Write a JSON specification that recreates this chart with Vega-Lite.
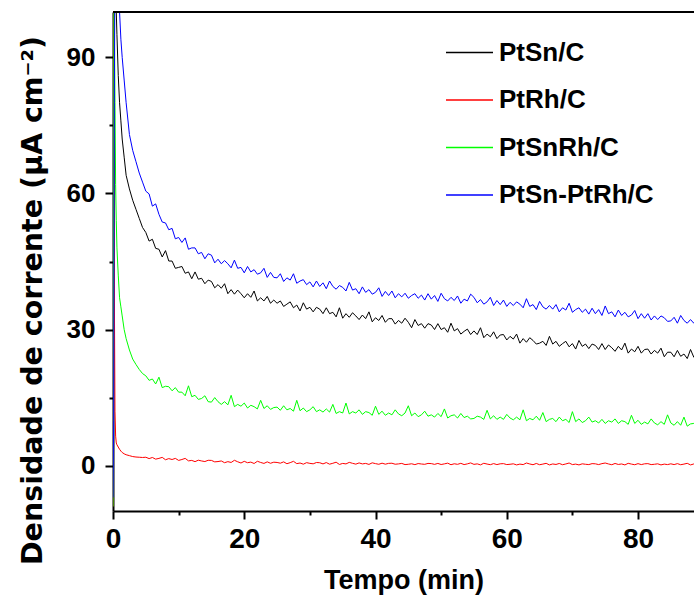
{
"$schema":"https://vega.github.io/schema/vega-lite/v6.json",
"width":581,"height":499,
"autosize":{"type":"none"},
"padding":{"left":113,"top":12,"right":0,"bottom":85},
"background":"white",
"config":{"view":{"stroke":null},"font":"Liberation Sans"},
"data":{"values":[
{"t":0,"PtSn":-8,"PtRh":-9,"PtSnRh":-9,"PtSnPtRh":-7},
{"t":0.1,"PtSn":30,"PtRh":70,"PtSnRh":60,"PtSnPtRh":10},
{"t":0.15,"PtSn":80,"PtRh":110,"PtSnRh":110,"PtSnPtRh":40},
{"t":0.2,"PtSn":110,"PtRh":40,"PtSnRh":100,"PtSnPtRh":80},
{"t":0.3,"PtSn":110,"PtRh":12,"PtSnRh":80,"PtSnPtRh":110},
{"t":0.4,"PtSn":105,"PtRh":6.5,"PtSnRh":62,"PtSnPtRh":115},
{"t":0.5,"PtSn":100,"PtRh":5.0,"PtSnRh":54,"PtSnPtRh":115},
{"t":0.6,"PtSn":95,"PtRh":4.6,"PtSnRh":48,"PtSnPtRh":115},
{"t":0.8,"PtSn":86,"PtRh":4.1,"PtSnRh":42,"PtSnPtRh":112},
{"t":1.0,"PtSn":80,"PtRh":3.6,"PtSnRh":37,"PtSnPtRh":100},
{"t":1.2,"PtSn":76,"PtRh":3.2,"PtSnRh":35,"PtSnPtRh":94},
{"t":1.4,"PtSn":72,"PtRh":2.9,"PtSnRh":33,"PtSnPtRh":90},
{"t":1.7,"PtSn":68,"PtRh":2.6,"PtSnRh":30,"PtSnPtRh":85},
{"t":2.0,"PtSn":64,"PtRh":2.4,"PtSnRh":28,"PtSnPtRh":80},
{"t":2.5,"PtSn":61,"PtRh":2.2,"PtSnRh":25.5,"PtSnPtRh":73},
{"t":3.0,"PtSn":58.5,"PtRh":2.0,"PtSnRh":23.5,"PtSnPtRh":69.5},
{"t":3.5,"PtSn":56.5,"PtRh":1.9,"PtSnRh":22.3,"PtSnPtRh":67},
{"t":4.0,"PtSn":54.5,"PtRh":1.85,"PtSnRh":21.2,"PtSnPtRh":64.5},
{"t":4.5,"PtSn":52.5,"PtRh":1.8,"PtSnRh":20.3,"PtSnPtRh":62.5},
{"t":5,"PtSn":51.4,"PtRh":1.85,"PtSnRh":19.8,"PtSnPtRh":60.5},
{"t":5.5,"PtSn":49.5,"PtRh":1.55,"PtSnRh":18.8,"PtSnPtRh":59.9},
{"t":6,"PtSn":49.9,"PtRh":1.8,"PtSnRh":19.1,"PtSnPtRh":57.2},
{"t":6.5,"PtSn":47.9,"PtRh":1.43,"PtSnRh":18.0,"PtSnPtRh":57.7},
{"t":7,"PtSn":47.7,"PtRh":1.6,"PtSnRh":19.5,"PtSnPtRh":55.4},
{"t":7.5,"PtSn":46.0,"PtRh":1.82,"PtSnRh":17.2,"PtSnPtRh":53.7},
{"t":8,"PtSn":47.4,"PtRh":1.3,"PtSnRh":17.5,"PtSnPtRh":53.5},
{"t":8.5,"PtSn":45.1,"PtRh":1.55,"PtSnRh":17.4,"PtSnPtRh":52.0},
{"t":9,"PtSn":45.1,"PtRh":1.35,"PtSnRh":16.5,"PtSnPtRh":52.3},
{"t":9.5,"PtSn":43.5,"PtRh":1.6,"PtSnRh":17.2,"PtSnPtRh":50.0},
{"t":10,"PtSn":43.7,"PtRh":1.15,"PtSnRh":16.2,"PtSnPtRh":50.3},
{"t":10.5,"PtSn":43.9,"PtRh":1.35,"PtSnRh":16.2,"PtSnPtRh":49.2},
{"t":11,"PtSn":42.4,"PtRh":1.6,"PtSnRh":15.4,"PtSnPtRh":50.2},
{"t":11.5,"PtSn":42.7,"PtRh":1.05,"PtSnRh":17.6,"PtSnPtRh":47.7},
{"t":12,"PtSn":41.2,"PtRh":1.15,"PtSnRh":15.2,"PtSnPtRh":48.0},
{"t":12.5,"PtSn":42.7,"PtRh":0.88,"PtSnRh":15.5,"PtSnPtRh":48.0},
{"t":13,"PtSn":41.1,"PtRh":1.2,"PtSnRh":14.6,"PtSnPtRh":46.7},
{"t":13.5,"PtSn":41.3,"PtRh":1.03,"PtSnRh":14.8,"PtSnPtRh":47.0},
{"t":14,"PtSn":40.1,"PtRh":0.9,"PtSnRh":15.4,"PtSnPtRh":45.6},
{"t":14.5,"PtSn":40.9,"PtRh":1.18,"PtSnRh":14.1,"PtSnPtRh":46.7},
{"t":15,"PtSn":40.6,"PtRh":1.15,"PtSnRh":14.0,"PtSnPtRh":46.4},
{"t":15.5,"PtSn":39.2,"PtRh":0.83,"PtSnRh":15.0,"PtSnPtRh":44.7},
{"t":16,"PtSn":39.9,"PtRh":0.9,"PtSnRh":14.1,"PtSnPtRh":45.5},
{"t":16.5,"PtSn":39.1,"PtRh":1.03,"PtSnRh":13.5,"PtSnPtRh":44.5},
{"t":17,"PtSn":40.1,"PtRh":0.65,"PtSnRh":14.1,"PtSnPtRh":45.2},
{"t":17.5,"PtSn":37.9,"PtRh":0.88,"PtSnRh":13.4,"PtSnPtRh":44.5},
{"t":18,"PtSn":38.8,"PtRh":0.7,"PtSnRh":15.5,"PtSnPtRh":43.6},
{"t":18.5,"PtSn":37.8,"PtRh":1.18,"PtSnRh":13.0,"PtSnPtRh":45.3},
{"t":19,"PtSn":38.7,"PtRh":0.85,"PtSnRh":13.5,"PtSnPtRh":43.5},
{"t":19.5,"PtSn":37.9,"PtRh":0.58,"PtSnRh":13.1,"PtSnPtRh":43.7},
{"t":20,"PtSn":37.0,"PtRh":0.95,"PtSnRh":13.8,"PtSnPtRh":42.5},
{"t":20.5,"PtSn":37.9,"PtRh":0.64,"PtSnRh":12.7,"PtSnPtRh":43.9},
{"t":21,"PtSn":37.1,"PtRh":0.78,"PtSnRh":13.3,"PtSnPtRh":42.7},
{"t":21.5,"PtSn":38.5,"PtRh":0.47,"PtSnRh":13.0,"PtSnPtRh":43.2},
{"t":22,"PtSn":36.3,"PtRh":0.96,"PtSnRh":12.5,"PtSnPtRh":42.2},
{"t":22.5,"PtSn":37.0,"PtRh":0.7,"PtSnRh":14.4,"PtSnPtRh":42.5},
{"t":23,"PtSn":36.3,"PtRh":0.49,"PtSnRh":12.6,"PtSnPtRh":43.5},
{"t":23.5,"PtSn":37.3,"PtRh":0.83,"PtSnRh":13.2,"PtSnPtRh":41.5},
{"t":24,"PtSn":35.8,"PtRh":0.52,"PtSnRh":12.4,"PtSnPtRh":42.6},
{"t":24.5,"PtSn":36.5,"PtRh":0.76,"PtSnRh":12.8,"PtSnPtRh":41.5},
{"t":25,"PtSn":35.8,"PtRh":0.7,"PtSnRh":12.9,"PtSnPtRh":41.4},
{"t":25.5,"PtSn":36.3,"PtRh":0.54,"PtSnRh":12.2,"PtSnPtRh":42.3},
{"t":26,"PtSn":35.1,"PtRh":0.83,"PtSnRh":13.2,"PtSnPtRh":40.6},
{"t":26.5,"PtSn":35.6,"PtRh":0.42,"PtSnRh":12.3,"PtSnPtRh":41.4},
{"t":27,"PtSn":36.1,"PtRh":0.66,"PtSnRh":12.6,"PtSnPtRh":40.9},
{"t":27.5,"PtSn":34.8,"PtRh":0.95,"PtSnRh":12.0,"PtSnPtRh":42.3},
{"t":28,"PtSn":35.4,"PtRh":0.44,"PtSnRh":14.4,"PtSnPtRh":40.2},
{"t":28.5,"PtSn":34.1,"PtRh":0.58,"PtSnRh":12.1,"PtSnPtRh":40.7},
{"t":29,"PtSn":35.9,"PtRh":0.32,"PtSnRh":12.7,"PtSnPtRh":41.0},
{"t":29.5,"PtSn":34.5,"PtRh":0.66,"PtSnRh":11.9,"PtSnPtRh":39.9},
{"t":30,"PtSn":34.9,"PtRh":0.5,"PtSnRh":12.3,"PtSnPtRh":40.5},
{"t":30.5,"PtSn":33.9,"PtRh":0.4,"PtSnRh":13.0,"PtSnPtRh":39.4},
{"t":31,"PtSn":34.9,"PtRh":0.69,"PtSnRh":11.9,"PtSnPtRh":40.7},
{"t":31.5,"PtSn":34.5,"PtRh":0.64,"PtSnRh":12.3,"PtSnPtRh":39.5},
{"t":32,"PtSn":33.5,"PtRh":0.38,"PtSnRh":11.8,"PtSnPtRh":40.3},
{"t":32.5,"PtSn":34.8,"PtRh":0.68,"PtSnRh":12.5,"PtSnPtRh":39.0},
{"t":33,"PtSn":33.5,"PtRh":0.32,"PtSnRh":11.8,"PtSnPtRh":40.7},
{"t":33.5,"PtSn":33.8,"PtRh":0.52,"PtSnRh":13.5,"PtSnPtRh":39.5},
{"t":34,"PtSn":32.8,"PtRh":0.76,"PtSnRh":11.5,"PtSnPtRh":38.9},
{"t":34.5,"PtSn":34.8,"PtRh":0.26,"PtSnRh":11.9,"PtSnPtRh":39.7},
{"t":35,"PtSn":32.5,"PtRh":0.49,"PtSnRh":11.6,"PtSnPtRh":39.3},
{"t":35.5,"PtSn":33.5,"PtRh":0.38,"PtSnRh":13.8,"PtSnPtRh":38.5},
{"t":36,"PtSn":32.7,"PtRh":0.72,"PtSnRh":11.4,"PtSnPtRh":40.4},
{"t":36.5,"PtSn":33.7,"PtRh":0.51,"PtSnRh":11.9,"PtSnPtRh":38.7},
{"t":37,"PtSn":33.0,"PtRh":0.33,"PtSnRh":11.6,"PtSnPtRh":39.0},
{"t":37.5,"PtSn":32.2,"PtRh":0.6,"PtSnRh":12.3,"PtSnPtRh":37.9},
{"t":38,"PtSn":33.2,"PtRh":0.38,"PtSnRh":11.3,"PtSnPtRh":39.4},
{"t":38.5,"PtSn":32.4,"PtRh":0.49,"PtSnRh":11.9,"PtSnPtRh":38.2},
{"t":39,"PtSn":33.9,"PtRh":0.27,"PtSnRh":11.7,"PtSnPtRh":38.8},
{"t":39.5,"PtSn":31.7,"PtRh":0.62,"PtSnRh":11.1,"PtSnPtRh":37.8},
{"t":40,"PtSn":32.6,"PtRh":0.44,"PtSnRh":13.1,"PtSnPtRh":38.2},
{"t":40.5,"PtSn":32.0,"PtRh":0.3,"PtSnRh":11.3,"PtSnPtRh":39.2},
{"t":41,"PtSn":33.1,"PtRh":0.54,"PtSnRh":12.0,"PtSnPtRh":37.3},
{"t":41.5,"PtSn":31.6,"PtRh":0.32,"PtSnRh":11.1,"PtSnPtRh":38.4},
{"t":42,"PtSn":32.4,"PtRh":0.5,"PtSnRh":11.6,"PtSnPtRh":37.5},
{"t":42.5,"PtSn":32.4,"PtRh":0.53,"PtSnRh":11.2,"PtSnPtRh":38.5},
{"t":43,"PtSn":31.2,"PtRh":0.31,"PtSnRh":12.3,"PtSnPtRh":37.0},
{"t":43.5,"PtSn":32.0,"PtRh":0.38,"PtSnRh":11.4,"PtSnPtRh":37.9},
{"t":44,"PtSn":31.4,"PtRh":0.49,"PtSnRh":11.0,"PtSnPtRh":37.2},
{"t":44.5,"PtSn":32.5,"PtRh":0.23,"PtSnRh":11.6,"PtSnPtRh":38.0},
{"t":45,"PtSn":31.6,"PtRh":0.3,"PtSnRh":13.2,"PtSnPtRh":36.9},
{"t":45.5,"PtSn":30.4,"PtRh":0.41,"PtSnRh":11.0,"PtSnPtRh":37.5},
{"t":46,"PtSn":32.2,"PtRh":0.22,"PtSnRh":11.6,"PtSnPtRh":37.9},
{"t":46.5,"PtSn":30.9,"PtRh":0.46,"PtSnRh":10.8,"PtSnPtRh":36.9},
{"t":47,"PtSn":31.3,"PtRh":0.36,"PtSnRh":11.2,"PtSnPtRh":37.6},
{"t":47.5,"PtSn":30.3,"PtRh":0.29,"PtSnRh":12.0,"PtSnPtRh":36.5},
{"t":48,"PtSn":31.3,"PtRh":0.49,"PtSnRh":10.9,"PtSnPtRh":37.9},
{"t":48.5,"PtSn":31.0,"PtRh":0.45,"PtSnRh":11.2,"PtSnPtRh":36.7},
{"t":49,"PtSn":30.0,"PtRh":0.28,"PtSnRh":10.7,"PtSnPtRh":37.5},
{"t":49.5,"PtSn":31.3,"PtRh":0.49,"PtSnRh":11.5,"PtSnPtRh":36.2},
{"t":50,"PtSn":30.0,"PtRh":0.25,"PtSnRh":10.8,"PtSnPtRh":38.0},
{"t":50.5,"PtSn":30.4,"PtRh":0.39,"PtSnRh":12.5,"PtSnPtRh":36.8},
{"t":51,"PtSn":29.4,"PtRh":0.55,"PtSnRh":10.5,"PtSnPtRh":36.3},
{"t":51.5,"PtSn":31.4,"PtRh":0.2,"PtSnRh":11.0,"PtSnPtRh":37.1},
{"t":52,"PtSn":29.7,"PtRh":0.41,"PtSnRh":11.2,"PtSnPtRh":36.4},
{"t":52.5,"PtSn":30.2,"PtRh":0.29,"PtSnRh":10.5,"PtSnPtRh":37.4},
{"t":53,"PtSn":29.0,"PtRh":0.51,"PtSnRh":11.5,"PtSnPtRh":35.8},
{"t":53.5,"PtSn":29.6,"PtRh":0.23,"PtSnRh":10.6,"PtSnPtRh":36.7},
{"t":54,"PtSn":30.1,"PtRh":0.39,"PtSnRh":10.9,"PtSnPtRh":36.3},
{"t":54.5,"PtSn":28.9,"PtRh":0.6,"PtSnRh":10.3,"PtSnPtRh":37.8},
{"t":55,"PtSn":29.7,"PtRh":0.28,"PtSnRh":10.4,"PtSnPtRh":37.1},
{"t":55.5,"PtSn":28.9,"PtRh":0.39,"PtSnRh":10.9,"PtSnPtRh":35.9},
{"t":56,"PtSn":30.4,"PtRh":0.17,"PtSnRh":10.7,"PtSnPtRh":36.6},
{"t":56.5,"PtSn":28.2,"PtRh":0.52,"PtSnRh":10.2,"PtSnPtRh":35.6},
{"t":57,"PtSn":29.0,"PtRh":0.35,"PtSnRh":12.2,"PtSnPtRh":36.1},
{"t":57.5,"PtSn":28.4,"PtRh":0.21,"PtSnRh":10.3,"PtSnPtRh":37.1},
{"t":58,"PtSn":29.5,"PtRh":0.45,"PtSnRh":11.0,"PtSnPtRh":35.3},
{"t":58.5,"PtSn":28.0,"PtRh":0.23,"PtSnRh":10.2,"PtSnPtRh":36.4},
{"t":59,"PtSn":28.8,"PtRh":0.4,"PtSnRh":10.7,"PtSnPtRh":35.5},
{"t":59.5,"PtSn":28.9,"PtRh":0.44,"PtSnRh":10.2,"PtSnPtRh":36.5},
{"t":60,"PtSn":27.7,"PtRh":0.23,"PtSnRh":11.3,"PtSnPtRh":35.1},
{"t":60.5,"PtSn":28.5,"PtRh":0.3,"PtSnRh":10.5,"PtSnPtRh":36.0},
{"t":61,"PtSn":27.9,"PtRh":0.4,"PtSnRh":10.1,"PtSnPtRh":35.3},
{"t":61.5,"PtSn":29.0,"PtRh":0.16,"PtSnRh":10.7,"PtSnPtRh":36.1},
{"t":62,"PtSn":27.0,"PtRh":0.34,"PtSnRh":10.1,"PtSnPtRh":35.6},
{"t":62.5,"PtSn":28.0,"PtRh":0.23,"PtSnRh":12.3,"PtSnPtRh":34.8},
{"t":63,"PtSn":27.2,"PtRh":0.58,"PtSnRh":9.9,"PtSnPtRh":36.8},
{"t":63.5,"PtSn":28.2,"PtRh":0.37,"PtSnRh":10.4,"PtSnPtRh":35.1},
{"t":64,"PtSn":27.6,"PtRh":0.2,"PtSnRh":10.1,"PtSnPtRh":35.5},
{"t":64.5,"PtSn":26.8,"PtRh":0.48,"PtSnRh":10.9,"PtSnPtRh":34.4},
{"t":65,"PtSn":27.0,"PtRh":0.2,"PtSnRh":10.0,"PtSnPtRh":36.2},
{"t":65.5,"PtSn":27.4,"PtRh":0.34,"PtSnRh":11.7,"PtSnPtRh":35.0},
{"t":66,"PtSn":26.5,"PtRh":0.51,"PtSnRh":9.7,"PtSnPtRh":34.5},
{"t":66.5,"PtSn":28.5,"PtRh":0.16,"PtSnRh":10.2,"PtSnPtRh":35.3},
{"t":67,"PtSn":26.8,"PtRh":0.37,"PtSnRh":10.4,"PtSnPtRh":34.5},
{"t":67.5,"PtSn":27.4,"PtRh":0.26,"PtSnRh":9.7,"PtSnPtRh":35.5},
{"t":68,"PtSn":26.3,"PtRh":0.48,"PtSnRh":10.7,"PtSnPtRh":33.9},
{"t":68.5,"PtSn":26.9,"PtRh":0.2,"PtSnRh":9.9,"PtSnPtRh":34.8},
{"t":69,"PtSn":27.4,"PtRh":0.37,"PtSnRh":10.2,"PtSnPtRh":34.3},
{"t":69.5,"PtSn":26.2,"PtRh":0.58,"PtSnRh":9.5,"PtSnPtRh":35.8},
{"t":70,"PtSn":26.9,"PtRh":0.23,"PtSnRh":11.9,"PtSnPtRh":33.8},
{"t":70.5,"PtSn":25.7,"PtRh":0.34,"PtSnRh":9.7,"PtSnPtRh":34.4},
{"t":71,"PtSn":27.6,"PtRh":0.16,"PtSnRh":10.3,"PtSnPtRh":34.8},
{"t":71.5,"PtSn":26.3,"PtRh":0.4,"PtSnRh":9.5,"PtSnPtRh":33.8},
{"t":72,"PtSn":26.8,"PtRh":0.3,"PtSnRh":9.9,"PtSnPtRh":34.5},
{"t":72.5,"PtSn":25.8,"PtRh":0.23,"PtSnRh":10.7,"PtSnPtRh":33.4},
{"t":73,"PtSn":26.8,"PtRh":0.44,"PtSnRh":9.6,"PtSnPtRh":34.7},
{"t":73.5,"PtSn":26.5,"PtRh":0.4,"PtSnRh":9.9,"PtSnPtRh":33.5},
{"t":74,"PtSn":25.6,"PtRh":0.23,"PtSnRh":9.4,"PtSnPtRh":34.4},
{"t":74.5,"PtSn":26.9,"PtRh":0.44,"PtSnRh":10.2,"PtSnPtRh":33.1},
{"t":75,"PtSn":25.6,"PtRh":0.58,"PtSnRh":9.3,"PtSnPtRh":35.2},
{"t":75.5,"PtSn":26.6,"PtRh":0.37,"PtSnRh":9.9,"PtSnPtRh":33.5},
{"t":76,"PtSn":26.0,"PtRh":0.2,"PtSnRh":9.6,"PtSnPtRh":33.9},
{"t":76.5,"PtSn":25.2,"PtRh":0.48,"PtSnRh":10.3,"PtSnPtRh":32.8},
{"t":77,"PtSn":26.3,"PtRh":0.26,"PtSnRh":9.3,"PtSnPtRh":34.3},
{"t":77.5,"PtSn":25.5,"PtRh":0.37,"PtSnRh":9.9,"PtSnPtRh":33.1},
{"t":78,"PtSn":27.0,"PtRh":0.16,"PtSnRh":9.7,"PtSnPtRh":33.8},
{"t":78.5,"PtSn":24.8,"PtRh":0.51,"PtSnRh":9.1,"PtSnPtRh":32.8},
{"t":79,"PtSn":25.7,"PtRh":0.34,"PtSnRh":11.1,"PtSnPtRh":33.2},
{"t":79.5,"PtSn":25.1,"PtRh":0.2,"PtSnRh":9.3,"PtSnPtRh":34.2},
{"t":80,"PtSn":26.3,"PtRh":0.44,"PtSnRh":10.0,"PtSnPtRh":32.4},
{"t":80.5,"PtSn":24.8,"PtRh":0.23,"PtSnRh":9.1,"PtSnPtRh":33.5},
{"t":81,"PtSn":25.6,"PtRh":0.4,"PtSnRh":9.6,"PtSnPtRh":32.5},
{"t":81.5,"PtSn":25.7,"PtRh":0.44,"PtSnRh":9.2,"PtSnPtRh":33.5},
{"t":82,"PtSn":24.6,"PtRh":0.23,"PtSnRh":10.3,"PtSnPtRh":32.1},
{"t":82.5,"PtSn":25.4,"PtRh":0.3,"PtSnRh":9.4,"PtSnPtRh":33.0},
{"t":83,"PtSn":24.8,"PtRh":0.4,"PtSnRh":9.0,"PtSnPtRh":32.2},
{"t":83.5,"PtSn":25.9,"PtRh":0.16,"PtSnRh":9.7,"PtSnPtRh":33.0},
{"t":84,"PtSn":24.0,"PtRh":0.34,"PtSnRh":9.1,"PtSnPtRh":32.6},
{"t":84.5,"PtSn":25.0,"PtRh":0.23,"PtSnRh":11.2,"PtSnPtRh":31.8},
{"t":85,"PtSn":25.0,"PtRh":0.4,"PtSnRh":9.4,"PtSnPtRh":31.9},
{"t":85.5,"PtSn":24.0,"PtRh":0.23,"PtSnRh":8.9,"PtSnPtRh":32.7},
{"t":86,"PtSn":25.4,"PtRh":0.44,"PtSnRh":9.7,"PtSnPtRh":31.4},
{"t":86.5,"PtSn":24.1,"PtRh":0.2,"PtSnRh":8.9,"PtSnPtRh":33.1},
{"t":87,"PtSn":24.6,"PtRh":0.34,"PtSnRh":10.7,"PtSnPtRh":32.0},
{"t":87.5,"PtSn":23.6,"PtRh":0.51,"PtSnRh":8.7,"PtSnPtRh":31.4},
{"t":88,"PtSn":25.6,"PtRh":0.16,"PtSnRh":9.2,"PtSnPtRh":32.2},
{"t":88.5,"PtSn":23.9,"PtRh":0.37,"PtSnRh":9.3,"PtSnPtRh":31.4},
{"t":89,"PtSn":24.6,"PtRh":0.26,"PtSnRh":8.7,"PtSnPtRh":32.5},
{"t":89.5,"PtSn":23.4,"PtRh":0.48,"PtSnRh":9.7,"PtSnPtRh":30.8},
{"t":90,"PtSn":24.1,"PtRh":0.2,"PtSnRh":8.9,"PtSnPtRh":31.8}
]},
"layer":[
{
"transform":[{"fold":["PtSn","PtRh","PtSnRh","PtSnPtRh"],"as":["s","y"]}],
"mark":{"type":"line","strokeWidth":1,"clip":true},
"encoding":{
"x":{"field":"t","type":"quantitative",
 "scale":{"domain":[0,88.53],"nice":false,"zero":false},
 "axis":{"values":[0,10,20,30,40,50,60,70,80],
  "labelExpr":"datum.value % 20 === 0 ? datum.label : ''",
  "tickSize":{"condition":{"test":"datum.value % 20 === 0","value":8},"value":4},
  "tickWidth":2,"tickColor":"black","domainColor":"black","domainWidth":2,
  "labelFont":"Liberation Sans","labelFontSize":28,"labelFontWeight":"bold","labelColor":"black","labelPadding":6,
  "labelFlush":false,"labelOverlap":false,"labelBound":false,"grid":false,
  "title":"Tempo (min)","titleFont":"Liberation Sans","titleFontSize":27,"titleFontWeight":"bold","titleColor":"black","titlePadding":14}},
"y":{"field":"y","type":"quantitative",
 "scale":{"domain":[-10,100],"nice":false,"zero":false},
 "axis":{"values":[0,15,30,45,60,75,90],
  "labelExpr":"datum.value % 30 === 0 ? datum.label : ''",
  "tickSize":{"condition":{"test":"datum.value % 30 === 0","value":8},"value":4},
  "tickWidth":2,"tickColor":"black","domainColor":"black","domainWidth":2,
  "labelFont":"Liberation Sans","labelFontSize":26,"labelFontWeight":"bold","labelColor":"black","labelPadding":10,
  "labelFlush":false,"labelOverlap":false,"labelBound":false,"grid":false,
  "title":"Densidade de corrente (μA cm⁻²)","titleFont":"DejaVu Sans","titleFontSize":28.5,"titleFontWeight":"bold","titleColor":"black",
  "titleX":-72,"titleY":288,"titleBaseline":"alphabetic","titleAngle":-90,"titleAlign":"center"}},
"color":{"field":"s","type":"nominal",
 "scale":{"domain":["PtSn","PtRh","PtSnRh","PtSnPtRh"],"range":["#000000","#ff0000","#00ff00","#0000ff"]},
 "legend":{"orient":"none","legendX":332,"legendY":16,"title":null,
  "labelExpr":"datum.label == 'PtSnPtRh' ? '\u00a0PtSn-PtRh/C' : datum.label + '/C'",
  "labelFont":"Liberation Sans","labelFontSize":26,"labelFontWeight":"bold","labelColor":"black","labelOffset":5,"labelLimit":0,
  "symbolType":"stroke","symbolSize":2209,"symbolStrokeWidth":1.5,"rowPadding":9.5}}
}
},
{
"data":{"values":[{"v":100}]},
"mark":{"type":"rule","strokeWidth":2,"color":"black"},
"encoding":{"y":{"field":"v","type":"quantitative","title":"Densidade de corrente (μA cm⁻²)"}}
}
]
}
